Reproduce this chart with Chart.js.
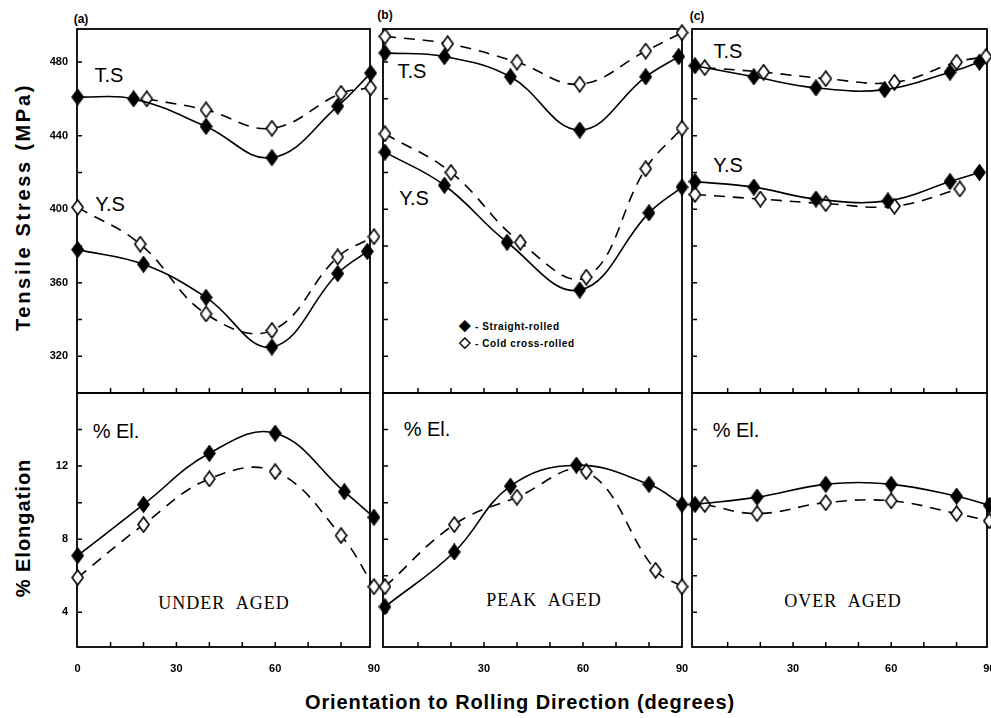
<!DOCTYPE html>
<html>
<head>
<meta charset="utf-8">
<script src="https://cdn.jsdelivr.net/npm/chart.js@4.4.1/dist/chart.umd.min.js"></script>
<style>
  body { margin: 0; background: #fff; width: 991px; height: 718px; position: relative; overflow: hidden;
         font-family: "Liberation Sans", Arial, sans-serif; color: #000; }
  canvas { position: absolute; }
  .t { position: absolute; white-space: nowrap; transform: translate(-50%, -50%); }
  .b { font-weight: bold; }
  .lab { font-size: 20px; }
  .age { font-family: "Liberation Serif", "Times New Roman", serif; font-size: 18px; letter-spacing: 1px; word-spacing: 6px; }
  .rot { transform: translate(-50%, -50%) rotate(-90deg); }
  .leg { position: absolute; white-space: nowrap; font-size: 10px; font-weight: bold; letter-spacing: 0.6px; transform: translateY(-50%); }
</style>
</head>
<body>
<div class="t b" style="left:81px;top:19px;font-size:12px">(a)</div>
<div class="t b" style="left:385px;top:15px;font-size:12px">(b)</div>
<div class="t b" style="left:697px;top:16px;font-size:12px">(c)</div>

<div class="t b rot" style="left:23px;top:207px;font-size:20px;letter-spacing:2.7px">Tensile Stress (MPa)</div>
<div class="t b rot" style="left:23px;top:528px;font-size:20px;letter-spacing:1px">% Elongation</div>
<div class="t b" style="left:520px;top:702px;font-size:20px;letter-spacing:0.9px">Orientation to Rolling Direction (degrees)</div>

<div class="t lab" style="left:109px;top:75px">T.S</div>
<div class="t lab" style="left:110px;top:204px">Y.S</div>
<div class="t lab" style="left:412px;top:71px">T.S</div>
<div class="t lab" style="left:414px;top:198px">Y.S</div>
<div class="t lab" style="left:728px;top:51px">T.S</div>
<div class="t lab" style="left:728px;top:165px">Y.S</div>

<div class="t lab" style="left:116px;top:431px">% El.</div>
<div class="t lab" style="left:427px;top:429px">% El.</div>
<div class="t lab" style="left:736px;top:430px">% El.</div>

<div class="t age" style="left:224px;top:603px">UNDER AGED</div>
<div class="t age" style="left:544px;top:600px">PEAK AGED</div>
<div class="t age" style="left:843px;top:601px">OVER AGED</div>

<div class="leg" style="left:459px;top:325px"><span style="font-size:15px">&#9670;</span> - Straight-rolled</div>
<div class="leg" style="left:459px;top:342px"><span style="font-size:15px">&#9671;</span> - Cold cross-rolled</div>

<script>
"use strict";

// 横軸: 圧延方向に対する角度 (度)
const xLabelsFirst = [0, 30, 60, 90];
const xLabelsOther = [30, 60, 90];
const xMinor = [10, 20, 30, 40, 50, 60, 70, 80];

// 縦軸の目盛
const stressLabels = [320, 360, 400, 440, 480];
const stressMinor = [320, 340, 360, 380, 400, 420, 440, 460, 480];
const elongLabels = [4, 8, 12];
const elongMinor = [4, 6, 8, 10, 12, 14];

// (a) UNDER AGED
const aTsStraightX = [0, 17, 39, 59, 79, 89];
const aTsStraightY = [461, 460, 445, 428, 456, 474];
const aTsColdX = [21, 39, 59, 80, 89];
const aTsColdY = [460, 454, 444, 463, 466];
const aYsStraightX = [0, 20, 39, 59, 79, 88];
const aYsStraightY = [378, 370, 352, 325, 365, 377];
const aYsColdX = [0, 19, 39, 59, 79, 90];
const aYsColdY = [401, 381, 343, 334, 374, 385];
const aElStraightX = [0, 20, 40, 60, 81, 90];
const aElStraightY = [7.1, 9.9, 12.7, 13.8, 10.6, 9.2];
const aElColdX = [0, 20, 40, 60, 80, 90];
const aElColdY = [5.9, 8.8, 11.3, 11.7, 8.2, 5.4];

// (b) PEAK AGED
const bTsStraightX = [0, 18, 38, 59, 79, 89];
const bTsStraightY = [485, 483, 472, 443, 472, 483];
const bTsColdX = [0, 19, 40, 59, 79, 90];
const bTsColdY = [494, 490, 480, 468, 486, 496];
const bYsStraightX = [0, 18, 37, 59, 80, 90];
const bYsStraightY = [431, 413, 382, 356, 398, 412];
const bYsColdX = [0, 20, 41, 61, 79, 90];
const bYsColdY = [441, 420, 382, 363, 422, 444];
const bElStraightX = [0, 21, 38, 58, 80, 90];
const bElStraightY = [4.3, 7.3, 10.9, 12.05, 11.0, 9.9];
const bElColdX = [0, 21, 40, 61, 82, 90];
const bElColdY = [5.4, 8.8, 10.3, 11.7, 6.3, 5.4];

// (c) OVER AGED
const cTsStraightX = [0, 18, 37, 58, 78, 87];
const cTsStraightY = [478, 472, 466, 465, 474.5, 480];
const cTsColdX = [3, 21, 40, 61, 80, 89];
const cTsColdY = [477, 474.5, 471, 469, 480, 483];
const cYsStraightX = [0, 18, 37, 59, 78, 87];
const cYsStraightY = [415, 412, 405.5, 404.5, 415, 420];
const cYsColdX = [0, 20, 40, 61, 81];
const cYsColdY = [408, 405.5, 403, 401.6, 411];
const cElStraightX = [0, 19, 40, 60, 80, 90];
const cElStraightY = [9.9, 10.3, 11.0, 11.0, 10.35, 9.85];
const cElColdX = [3, 19, 40, 60, 80, 90];
const cElColdY = [9.9, 9.4, 10.0, 10.1, 9.4, 9.0];

// パネルの枠 (ピクセル)
const cols = [
    { l: 77, r: 370, xMin: -0.2, xMax: 88.8 },
    { l: 383, r: 682, xMin: -0.6, xMax: 90 },
    { l: 692, r: 987, xMin: -0.9, xMax: 89.3 }
];
const rows = [
    { t: 29, b: 393, yMin: 300, yMax: 498, labels: stressLabels, minor: stressMinor },
    { t: 393, b: 647, yMin: 2.1, yMax: 16, labels: elongLabels, minor: elongMinor }
];

const pts = (xs, ys) => xs.map((x, i) => ({ x, y: ys[i] }));

// ひし形マーカー
const makeDiamond = (filled) => {
    const c = document.createElement('canvas');
    c.width = 13; c.height = 17;
    const g = c.getContext('2d');
    g.beginPath();
    g.moveTo(6.5, 1); g.lineTo(12, 8.5); g.lineTo(6.5, 16); g.lineTo(1, 8.5); g.closePath();
    g.fillStyle = filled ? '#000' : '#fff';
    g.fill();
    g.lineWidth = 1.6; g.strokeStyle = '#000';
    g.stroke();
    return c;
};
const filledDiamond = makeDiamond(true);
const openDiamond = makeDiamond(false);

const straight = (data) => ({
    data, borderColor: '#000', borderWidth: 1.6, tension: 0.4, clip: false,
    pointStyle: filledDiamond, pointRadius: 7
});
const cold = (data) => ({
    data, borderColor: '#000', borderWidth: 1.6, borderDash: [11, 8], tension: 0.4, clip: false,
    pointStyle: openDiamond, pointRadius: 7
});

// 枠と内向きの目盛
const framePlugin = {
    id: 'frame',
    beforeDatasetsDraw(chart) {
        const { ctx, chartArea: a, scales } = chart;
        const minor = chart.options.plugins.frame;
        ctx.save();
        ctx.strokeStyle = '#000';
        ctx.lineWidth = 1.8;
        ctx.strokeRect(a.left, a.top, a.right - a.left, a.bottom - a.top);
        ctx.lineWidth = 1.5;
        ctx.beginPath();
        minor.y.forEach(v => {
            const y = scales.y.getPixelForValue(v);
            ctx.moveTo(a.left, y); ctx.lineTo(a.left + 5, y);
        });
        minor.x.forEach(v => {
            const x = scales.x.getPixelForValue(v);
            ctx.moveTo(x, a.bottom); ctx.lineTo(x, a.bottom - 5);
        });
        ctx.stroke();
        ctx.restore();
    }
};

const panels = [
    { col: 0, row: 0, datasets: [straight(pts(aTsStraightX, aTsStraightY)), cold(pts(aTsColdX, aTsColdY)), straight(pts(aYsStraightX, aYsStraightY)), cold(pts(aYsColdX, aYsColdY))] },
    { col: 1, row: 0, datasets: [straight(pts(bTsStraightX, bTsStraightY)), cold(pts(bTsColdX, bTsColdY)), straight(pts(bYsStraightX, bYsStraightY)), cold(pts(bYsColdX, bYsColdY))] },
    { col: 2, row: 0, datasets: [straight(pts(cTsStraightX, cTsStraightY)), cold(pts(cTsColdX, cTsColdY)), straight(pts(cYsStraightX, cYsStraightY)), cold(pts(cYsColdX, cYsColdY))] },
    { col: 0, row: 1, datasets: [straight(pts(aElStraightX, aElStraightY)), cold(pts(aElColdX, aElColdY))] },
    { col: 1, row: 1, datasets: [straight(pts(bElStraightX, bElStraightY)), cold(pts(bElColdX, bElColdY))] },
    { col: 2, row: 1, datasets: [straight(pts(cElStraightX, cElStraightY)), cold(pts(cElColdX, cElColdY))] }
];

const tickFont = { family: '"Liberation Sans", Arial, sans-serif', size: 11, weight: 'bold' };

panels.forEach(p => {
    const c = cols[p.col];
    const r = rows[p.row];
    const mL = p.col === 0 ? 45 : 10;
    const mR = 10, mT = 10;
    const mB = p.row === 1 ? 35 : 10;
    const canvas = document.createElement('canvas');
    canvas.width = c.r - c.l + mL + mR;
    canvas.height = r.b - r.t + mT + mB;
    canvas.style.left = (c.l - mL) + 'px';
    canvas.style.top = (r.t - mT) + 'px';
    document.body.appendChild(canvas);

    const showY = p.col === 0;
    const showX = p.row === 1;
    const xLabels = p.col === 0 ? xLabelsFirst : xLabelsOther;

    new Chart(canvas, {
        type: 'line',
        data: { datasets: p.datasets },
        options: {
            responsive: false,
            animation: false,
            devicePixelRatio: 1,
            layout: { padding: { left: showY ? 0 : mL, right: mR, top: mT, bottom: showX ? 0 : mB } },
            plugins: {
                legend: { display: false },
                tooltip: { enabled: false },
                frame: { x: xMinor, y: r.minor }
            },
            scales: {
                x: {
                    type: 'linear', min: c.xMin, max: c.xMax,
                    grid: { display: false, drawTicks: false },
                    border: { display: false },
                    afterBuildTicks: axis => { axis.ticks = xLabels.map(v => ({ value: v })); },
                    afterFit: axis => {
                        axis.height = showX ? mB : 0;
                        axis.paddingLeft = 0; axis.paddingRight = 0;
                    },
                    ticks: { display: showX, font: tickFont, color: '#000', padding: 15, maxRotation: 0, autoSkip: false }
                },
                y: {
                    min: r.yMin, max: r.yMax,
                    grid: { display: false, drawTicks: false },
                    border: { display: false },
                    afterBuildTicks: axis => { axis.ticks = r.labels.map(v => ({ value: v })); },
                    afterFit: axis => {
                        axis.width = showY ? mL : 0;
                        axis.paddingTop = 0; axis.paddingBottom = 0;
                    },
                    ticks: { display: showY, font: tickFont, color: '#000', padding: 9 }
                }
            }
        },
        plugins: [framePlugin]
    });
});
</script>
</body>
</html>
